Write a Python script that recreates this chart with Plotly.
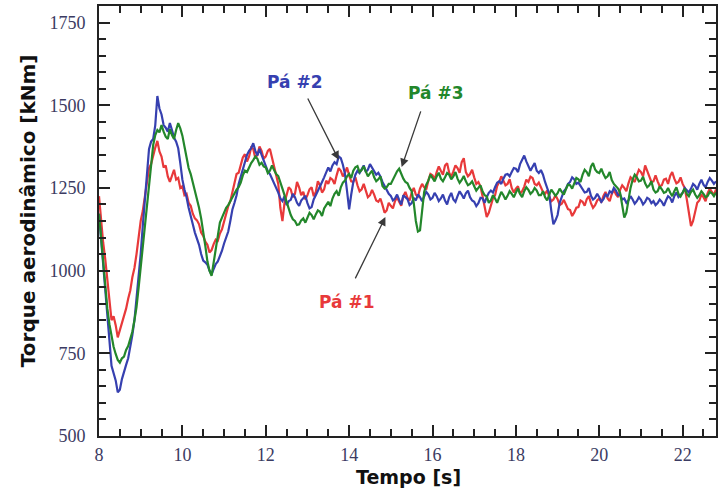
import plotly.graph_objects as go

# time grid: samples every 0.05 s starting at 8.0 s
T0 = 8.0
DT = 0.05

pa1 = [  # red
    1225, 1150, 1085, 1035, 975, 905, 850, 862, 835, 798, 820, 848, 862, 885, 915, 940, 980, 1008, 1050, 1098,
    1150, 1180, 1225, 1275, 1310, 1322, 1350, 1372, 1392, 1360, 1345, 1312, 1318, 1285, 1268, 1290, 1305, 1275, 1280, 1250,
    1255, 1228, 1232, 1205, 1196, 1172, 1158, 1152, 1140, 1115, 1105, 1088, 1078, 1055, 1062, 1080, 1094, 1090, 1112, 1125,
    1148, 1176, 1195, 1210, 1236, 1270, 1292, 1296, 1318, 1342, 1352, 1330, 1345, 1372, 1368, 1340, 1350, 1375, 1362, 1338,
    1345, 1362, 1368, 1340, 1312, 1290, 1262, 1190, 1150, 1205, 1228, 1252, 1245, 1222, 1232, 1268, 1252, 1228, 1238, 1215,
    1228, 1246, 1252, 1225, 1238, 1270, 1258, 1236, 1246, 1272, 1262, 1280, 1275, 1262, 1288, 1310, 1302, 1285, 1296, 1312,
    1288, 1270, 1268, 1282, 1258, 1240, 1246, 1262, 1242, 1222, 1228, 1244, 1230, 1212, 1208, 1218, 1198, 1175, 1182, 1205,
    1196, 1188, 1210, 1222, 1208, 1196, 1225, 1238, 1220, 1212, 1236, 1250, 1230, 1224, 1248, 1262, 1252, 1245, 1272, 1292,
    1288, 1276, 1298, 1315, 1302, 1290, 1318, 1325, 1296, 1284, 1300, 1318, 1310, 1296, 1328, 1340, 1298, 1285, 1292, 1305,
    1282, 1262, 1268, 1255, 1225, 1190, 1162, 1175, 1198, 1218, 1228, 1256, 1268, 1285, 1272, 1258, 1262, 1276, 1250, 1236,
    1248, 1255, 1232, 1240, 1254, 1275, 1268, 1284, 1280, 1262, 1258, 1266, 1252, 1238, 1232, 1242, 1224, 1210, 1215, 1228,
    1216, 1198, 1202, 1214, 1200, 1186, 1183, 1165, 1176, 1190, 1192, 1212, 1208, 1196, 1216, 1225, 1204, 1190, 1198, 1212,
    1218, 1206, 1226, 1238, 1218, 1210, 1232, 1244, 1230, 1222, 1244, 1258, 1250, 1240, 1264, 1282, 1276, 1268, 1288, 1305,
    1298, 1285, 1318, 1300, 1282, 1268, 1270, 1288, 1270, 1255, 1258, 1275, 1278, 1262, 1286, 1298, 1278, 1264, 1268, 1282,
    1262, 1250, 1215, 1170, 1135, 1150, 1180, 1205, 1212, 1230, 1222, 1210, 1234, 1248, 1238, 1228, 1246,
]

pa2 = [  # blue
    1172, 1100, 1030, 950, 875, 790, 712, 690, 668, 632, 640, 672, 698, 715, 735, 765, 805, 850, 915, 985,
    1050, 1135, 1215, 1300, 1368, 1390, 1398, 1440, 1528, 1490, 1472, 1440, 1432, 1420, 1446, 1425, 1402, 1390, 1370, 1325,
    1275, 1245, 1222, 1190, 1168, 1140, 1115, 1098, 1078, 1050, 1030, 1025, 1018, 1000, 988, 1005, 1020, 1028, 1042, 1060,
    1082, 1098, 1118, 1150, 1185, 1205, 1228, 1262, 1284, 1310, 1332, 1350, 1362, 1370, 1385, 1362, 1348, 1368, 1350, 1332,
    1318, 1300, 1292, 1278, 1268, 1250, 1236, 1218, 1210, 1225, 1198, 1210, 1214, 1232, 1222, 1205, 1196, 1212, 1218, 1226,
    1204, 1188, 1192, 1215, 1228, 1240, 1252, 1268, 1282, 1296, 1312, 1300, 1318, 1328, 1322, 1345, 1340, 1320, 1292, 1240,
    1185, 1230, 1268, 1290, 1302, 1295, 1308, 1318, 1298, 1305, 1322, 1312, 1304, 1290, 1296, 1285, 1268, 1255, 1242, 1232,
    1226, 1212, 1218, 1230, 1214, 1200, 1228, 1222, 1216, 1198, 1204, 1220, 1212, 1230, 1222, 1210, 1224, 1238, 1230, 1215,
    1220, 1235, 1225, 1210, 1218, 1230, 1212, 1200, 1222, 1235, 1215, 1208, 1225, 1240, 1230, 1218, 1234, 1242, 1222, 1212,
    1208, 1195, 1204, 1220, 1218, 1205, 1222, 1235, 1242, 1236, 1252, 1266, 1270, 1262, 1278, 1290, 1292, 1285, 1298, 1310,
    1308, 1298, 1322, 1335, 1348, 1330, 1316, 1302, 1314, 1325, 1302, 1295, 1304, 1290, 1268, 1252, 1232, 1180, 1140, 1152,
    1168, 1205, 1226, 1240, 1248, 1262, 1268, 1282, 1276, 1262, 1266, 1255, 1248, 1236, 1238, 1250, 1226, 1215, 1220, 1232,
    1222, 1208, 1216, 1230, 1225, 1240, 1235, 1250, 1242, 1228, 1230, 1215, 1218, 1205, 1212, 1225, 1215, 1202, 1210, 1222,
    1214, 1200, 1208, 1220, 1216, 1204, 1210, 1198, 1204, 1215, 1208, 1196, 1212, 1225, 1220, 1206, 1225, 1236, 1222, 1230,
    1235, 1250, 1242, 1236, 1248, 1262, 1256, 1245, 1262, 1275, 1260, 1252, 1268, 1280, 1272, 1262, 1270,
]

pa3 = [  # green
    1172, 1098, 1025, 950, 885, 838, 800, 770, 748, 730, 722, 735, 740, 760, 772, 795, 815, 850, 890, 948,
    1010, 1072, 1130, 1195, 1260, 1325, 1380, 1410, 1425, 1418, 1440, 1420, 1405, 1398, 1428, 1410, 1398, 1425, 1446, 1430,
    1408, 1375, 1342, 1310, 1292, 1268, 1244, 1220, 1190, 1158, 1122, 1075, 1028, 1000, 984, 1025, 1072, 1110, 1145, 1160,
    1176, 1190, 1198, 1210, 1218, 1232, 1245, 1252, 1266, 1288, 1302, 1298, 1312, 1325, 1334, 1345, 1338, 1320, 1326, 1315,
    1312, 1295, 1302, 1318, 1304, 1292, 1286, 1270, 1248, 1228, 1206, 1188, 1168, 1155, 1150, 1138, 1140, 1152, 1158, 1145,
    1162, 1175, 1168, 1155, 1170, 1182, 1178, 1165, 1188, 1200, 1208, 1195, 1218, 1232, 1240, 1226, 1252, 1266, 1272, 1285,
    1292, 1280, 1302, 1312, 1316, 1298, 1304, 1315, 1298, 1285, 1294, 1302, 1282, 1270, 1276, 1285, 1256, 1248, 1252, 1262,
    1262, 1275, 1286, 1300, 1308, 1290, 1278, 1268, 1264, 1250, 1240, 1205, 1150, 1118, 1122, 1180, 1238, 1260, 1272, 1290,
    1280, 1270, 1285, 1296, 1278, 1270, 1282, 1295, 1290, 1276, 1285, 1298, 1278, 1265, 1274, 1286, 1270, 1258, 1262, 1270,
    1255, 1242, 1250, 1258, 1240, 1228, 1225, 1205, 1212, 1228, 1218, 1205, 1222, 1238, 1228, 1215, 1226, 1240, 1232, 1222,
    1236, 1248, 1232, 1222, 1240, 1252, 1244, 1232, 1238, 1250, 1242, 1228, 1228, 1240, 1222, 1212, 1230, 1245, 1236, 1226,
    1234, 1248, 1238, 1230, 1246, 1260, 1258, 1248, 1264, 1280, 1276, 1268, 1290, 1305, 1298, 1285, 1314, 1325, 1306, 1298,
    1295, 1308, 1292, 1280, 1285, 1298, 1274, 1262, 1255, 1248, 1235, 1190, 1160, 1175, 1215, 1250, 1275, 1290, 1282, 1270,
    1272, 1284, 1264, 1252, 1258, 1270, 1245, 1236, 1240, 1255, 1246, 1235, 1238, 1250, 1236, 1225, 1240, 1252, 1232, 1224,
    1236, 1248, 1232, 1225, 1238, 1245, 1230, 1220, 1228, 1240, 1232, 1222, 1226, 1238, 1234, 1225, 1236,
]

x_ticks = [8, 10, 12, 14, 16, 18, 20, 22]
y_ticks = [500, 750, 1000, 1250, 1500, 1750]

RED = "#e8393a"
BLUE = "#3640b0"
GREEN = "#23872b"


def times(n):
    return [round(T0 + i * DT, 3) for i in range(n)]


fig = go.Figure()
for name, ys, col in [("Pá #1", pa1, RED), ("Pá #2", pa2, BLUE), ("Pá #3", pa3, GREEN)]:
    fig.add_trace(go.Scatter(x=times(len(ys)), y=ys, mode="lines", name=name,
                             line=dict(color=col, width=2.2), showlegend=False))

tickfont = dict(family="Liberation Serif", size=18, color="#3b3b62")
xtitlefont = dict(family="DejaVu Sans", size=19, color="#111111", weight="bold")
ytitlefont = dict(family="DejaVu Sans", size=20, color="#111111", weight="bold")

fig.update_xaxes(range=[8, 22.8], tickvals=x_ticks, ticktext=[str(v) for v in x_ticks],
                 ticks="inside", ticklen=11, tickwidth=2, tickcolor="#222",
                 minor=dict(dtick=0.5, tick0=8, ticks="inside", ticklen=7, tickwidth=2, tickcolor="#222"),
                 showline=True, linecolor="#222", linewidth=2, mirror="allticks",
                 showgrid=False, zeroline=False, tickfont=tickfont, ticklabelstandoff=1)
fig.update_yaxes(range=[500, 1800], tickvals=y_ticks, ticktext=[str(v) for v in y_ticks],
                 ticks="inside", ticklen=11, tickwidth=2, tickcolor="#222",
                 minor=dict(dtick=50, tick0=500, ticks="inside", ticklen=7, tickwidth=2, tickcolor="#222"),
                 showline=True, linecolor="#222", linewidth=2, mirror="allticks",
                 showgrid=False, zeroline=False, tickfont=tickfont, ticklabelstandoff=8)

# axis titles
fig.add_annotation(xref="paper", yref="paper", x=0.502, y=-0.095, text="Tempo [s]",
                   showarrow=False, xanchor="center", yanchor="middle", font=xtitlefont)
fig.add_annotation(xref="paper", yref="paper", x=-0.115, y=0.523, text="Torque aerodinâmico [kNm]",
                   showarrow=False, xanchor="center", yanchor="middle", textangle=-90, font=ytitlefont)

labfont = dict(family="DejaVu Sans", size=17, weight="bold")
fig.add_annotation(x=12.68, y=1570, text="Pá #2", showarrow=False, font=dict(labfont, color=BLUE))
fig.add_annotation(x=16.07, y=1537, text="Pá #3", showarrow=False, font=dict(labfont, color=GREEN))
fig.add_annotation(x=13.94, y=905, text="Pá #1", showarrow=False, font=dict(labfont, color=RED))
for (hx, hy, tx, ty) in [(13.75, 1335, 12.99, 1525), (15.26, 1313, 15.73, 1486), (14.87, 1162, 14.13, 972)]:
    fig.add_annotation(x=hx, y=hy, ax=tx, ay=ty, axref="x", ayref="y", xref="x", yref="y",
                       text="", showarrow=True, arrowhead=2, arrowsize=1.3, arrowwidth=1.3,
                       arrowcolor="#3a3a3a")

fig.update_layout(width=718, height=490, margin=dict(l=99, r=0, t=6, b=54),
                  plot_bgcolor="white", paper_bgcolor="white")
fig.write_html("out.html")
